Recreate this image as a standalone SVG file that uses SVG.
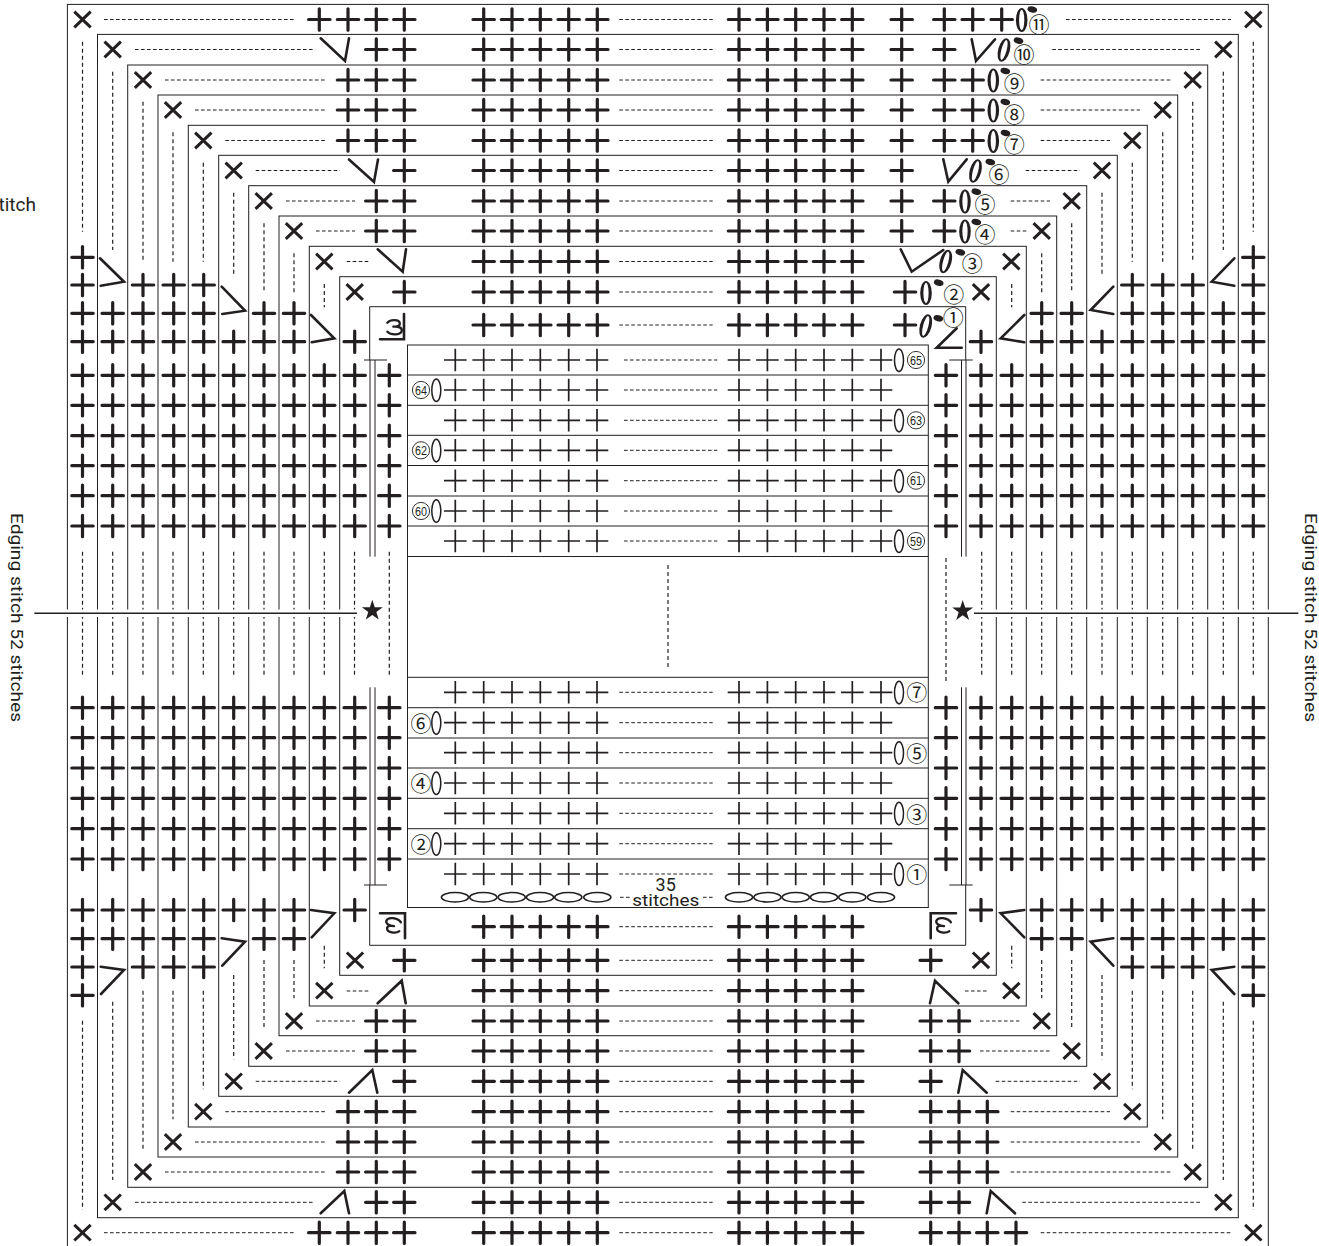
<svg xmlns="http://www.w3.org/2000/svg" width="1319" height="1246" viewBox="0 0 1319 1246">
<style>
.l{fill:none;stroke:#231f20;stroke-width:1}
.p{fill:none;stroke:#231f20;stroke-width:3.2;stroke-linecap:round}
.t{fill:none;stroke:#231f20;stroke-width:1.7}
.x{fill:none;stroke:#231f20;stroke-width:3}
.c{fill:none;stroke:#231f20;stroke-width:2.6;stroke-linecap:round;stroke-linejoin:miter}
.dh{fill:none;stroke:#231f20;stroke-width:1;stroke-dasharray:3.6 2.4}
.dv{fill:none;stroke:#231f20;stroke-width:1.2;stroke-dasharray:4 3}
.ot{fill:none;stroke:#231f20;stroke-width:1.5}
.d{fill:#231f20}
.w{fill:#fff}
.g{fill:none;stroke:#231f20;stroke-width:2.3;stroke-linecap:round;stroke-linejoin:round}
.n{font-family:"Noto Sans CJK JP","Noto Sans",sans-serif;font-size:21px;fill:#231f20;text-anchor:middle}
.m{font-family:"Liberation Sans",sans-serif;font-size:13px;fill:#231f20;text-anchor:middle}
.f{fill:none;stroke:#231f20;stroke-width:.9}
.r{font-family:Roboto,"Liberation Sans",sans-serif;font-size:16px;fill:#231f20}
</style>
<defs>
<path id="p" class="p" d="M-10.7 0H10.7M0-10.7V10.7"/>
<path id="t" class="t" d="M-11.3 0H11.3M0-11.3V11.3"/>
<path id="x" class="x" d="M-8.2-7.8L8.2 7.8M8.2-7.8L-8.2 7.8"/>
<path id="s" class="d" d="M0-11L2.47-3.4H10.46L4 1.3L6.47 8.9L0 4.2L-6.47 8.9L-4 1.3L-10.46-3.4H-2.47Z"/>
<path id="g3" class="g" d="M-7-5C-4-8.5 5-8.5 5.5-4.5C6-1.5 2-1-1-1C4-1.5 8 0 7.5 3C7 7.5-3 8-7 4"/>
<g id="o"><ellipse class="d" rx="5.8" ry="12"/><ellipse class="w" rx="2.6" ry="10.2"/></g>
<g id="u6"><use href="#p" y="375.3"/><use href="#p" y="405.3"/><use href="#p" y="435.7"/><use href="#p" y="465.7"/><use href="#p" y="495.7"/><use href="#p" y="526"/></g>
<g id="d6"><use href="#p" y="707.7"/><use href="#p" y="737.7"/><use href="#p" y="768"/><use href="#p" y="798.3"/><use href="#p" y="828.7"/><use href="#p" y="859"/></g>
<g id="c0"><use href="#u6"/><use href="#d6"/></g>
<g id="c1"><use href="#c0"/><use href="#p" y="341.7"/><use href="#p" y="910"/></g>
<g id="c2"><use href="#c1"/><use href="#p" y="313.3"/><use href="#p" y="938.7"/></g>
<g id="c3"><use href="#c2"/><use href="#p" y="285"/><use href="#p" y="967"/></g>
<g id="c4"><use href="#c3"/><use href="#p" y="257.3"/><use href="#p" y="995.3"/></g>
<g id="cr"><use href="#p" x="483.7"/><use href="#p" x="512"/><use href="#p" x="540.3"/><use href="#p" x="568.7"/><use href="#p" x="597.3"/><use href="#p" x="739"/><use href="#p" x="767.4"/><use href="#p" x="795.7"/><use href="#p" x="824"/><use href="#p" x="852.3"/><path class="dh" d="M619.3 0H712.7"/></g>
<g id="tr"><use href="#t" x="455.3"/><use href="#t" x="483.7"/><use href="#t" x="512"/><use href="#t" x="540.3"/><use href="#t" x="568.7"/><use href="#t" x="597"/><use href="#t" x="739"/><use href="#t" x="767.4"/><use href="#t" x="795.7"/><use href="#t" x="824"/><use href="#t" x="852.3"/><use href="#t" x="881"/></g>
</defs>

<g id="frames">
<rect class="l" x="67.4" y="4.4" width="1200.9" height="1244"/>
<rect class="l" x="97.5" y="34.4" width="1140.8" height="1183.3"/>
<rect class="l" x="127.7" y="65" width="1080" height="1122.3"/>
<rect class="l" x="158" y="95" width="1019.7" height="1062"/>
<rect class="l" x="188.3" y="125.3" width="959" height="1001.7"/>
<rect class="l" x="218.7" y="155.3" width="898.6" height="941"/>
<rect class="l" x="248.7" y="185.7" width="838" height="880.6"/>
<rect class="l" x="279" y="216" width="777.7" height="819.7"/>
<rect class="l" x="309.3" y="246.3" width="717" height="759.7"/>
<rect class="l" x="339.7" y="276.7" width="656.6" height="698.6"/>
<path class="l" d="M369.7 360V306.7H965.7V360M369.7 885V945.3H965.7V885"/>
<rect class="l" x="407.5" y="345" width="520.8" height="562.5"/>
<path class="l" d="M407.5 375H928.3M407.5 405.3H928.3M407.5 435.3H928.3M407.5 465.5H928.3M407.5 496H928.3M407.5 526H928.3M407.5 556.5H928.3M407.5 677.3H928.3M407.5 707.7H928.3M407.5 738H928.3M407.5 768H928.3M407.5 798.3H928.3M407.5 828.7H928.3M407.5 859H928.3"/>
<path class="l" d="M364 360H387M370 360V556.7M375 360V556.7M364 885H387M370 687.3V885M375 687.3V885M949.3 360H972.7M961.5 360V556.7M966 360V556.7M949.3 885H972.7M961.5 687.3V885M966 687.3V885"/>
</g>

<g id="stitch-lines">
<path class="dv" d="M82.5 41.7V231.7M112.7 71.7V250M143 101.7V261.7M173 132.3V261.7M203.3 162.7V261.7M233.7 192.7V276.7M264 223.3V292.7M294 253.3V292.7M324.3 284V307.3M1253.3 41.7V231.7M1223.3 71.7V250M1192.7 101.7V261.7M1162.7 132.3V261.7M1132.3 162.7V261.7M1102 192.7V276.7M1071.7 223.3V292.7M1041.7 253.3V292.7M1011.7 284V307.3"/>
<path class="dv" d="M82.5 551.7V675M112.7 551.7V675M143 551.7V675M173 551.7V675M203.3 551.7V675M233.7 551.7V675M264 551.7V675M294 551.7V675M324.3 551.7V675M354.5 551.7V675M389.3 551.7V675M946 558V682.7M981.7 551.7V675M1011.7 551.7V675M1041.7 551.7V675M1071.7 551.7V675M1102 551.7V675M1132.3 551.7V675M1162.7 551.7V675M1192.7 551.7V675M1223.3 551.7V675M1253.3 551.7V675M668 565V670"/>
<path class="dv" d="M82.5 1020.7V1210M112.7 1001.7V1180M143 990.7V1149.3M173 990.7V1119.3M203.3 990.7V1089.3M233.7 975V1059.3M264 960V1029M294 960V998.3M324.3 945.7V968.3M1253.3 1020.7V1210M1223.3 1001.7V1180M1192.7 990.7V1149.3M1162.7 990.7V1119.3M1132.3 990.7V1089.3M1102 975V1059.3M1071.7 960V1029M1041.7 960V998.3M1011.7 945.7V968.3"/>
<path class="dh" d="M104 19.5H295M135 49.5H314M165 80H325M195 110H325M225.3 140.5H325M255.7 170.5H340M286 201H355M316 231H355M346.7 261.5H370M1066 19.5H1231M1052.3 49.5H1201M1040.7 80H1170.7M1040.7 110H1140M1040.7 140.5H1110M1025.7 170.5H1080M1010.7 201H1050M1010.7 231H1026.7"/>
<path class="dh" d="M346.7 991H370M316 1021H355M286 1051H355M255.7 1081.3H340M225.3 1111.7H325M195 1142H325M165 1172H325M135 1202.3H314M104 1232.7H295M965 991H989M980 1021H1019.3M980 1051H1050M995.7 1081.3H1080M1010.7 1111.7H1110M1010.7 1142H1140M1010.7 1172H1170.7M1022.3 1202.3H1201M1040.7 1232.7H1231"/>
<path class="dh" d="M624 360H717.3M624 390H717.3M624 420.3H717.3M624 450.3H717.3M624 480.7H717.3M624 511H717.3M624 541H717.3M619.3 692.3H712.7M619.3 722.7H712.7M619.3 752.7H712.7M619.3 783H712.7M619.3 813.3H712.7M619.3 843.7H712.7M619.3 874H712.7M620 897.3H630M703 897.3H713"/>
<path fill="none" stroke="#fff" stroke-width="7.5" d="M34.3 613.3H357M974 613.3H1298.3"/>
<path fill="none" stroke="#231f20" stroke-width="1.6" d="M34.3 613.3H357M974 613.3H1298.3"/>
</g>

<g id="side-columns">
<use href="#c4" x="82.5"/><use href="#c2" x="112.7"/><use href="#c3" x="143"/><use href="#c3" x="173.7"/><use href="#c3" x="203.7"/><use href="#c1" x="233.7"/><use href="#c2" x="264"/><use href="#c2" x="294"/><use href="#c0" x="324.3"/><use href="#c1" x="354.7"/><use href="#c0" x="389.3"/>
<use href="#c4" x="1253.3"/><use href="#c2" x="1223.3"/><use href="#c3" x="1192.7"/><use href="#c3" x="1162.7"/><use href="#c3" x="1132.3"/><use href="#c1" x="1102"/><use href="#c2" x="1071.7"/><use href="#c2" x="1041.7"/><use href="#c0" x="1011.7"/><use href="#c1" x="981"/><use href="#c0" x="946"/>
</g>

<g id="center-rows">
<use href="#cr" y="19.5"/><use href="#cr" y="49.5"/><use href="#cr" y="80"/><use href="#cr" y="110"/><use href="#cr" y="140.5"/><use href="#cr" y="170.5"/><use href="#cr" y="201"/><use href="#cr" y="231"/><use href="#cr" y="261.5"/><use href="#cr" y="292"/><use href="#cr" y="325"/>
<use href="#cr" y="926.7"/><use href="#cr" y="960.3"/><use href="#cr" y="990.7"/><use href="#cr" y="1021"/><use href="#cr" y="1051"/><use href="#cr" y="1081.3"/><use href="#cr" y="1111.7"/><use href="#cr" y="1142"/><use href="#cr" y="1172"/><use href="#cr" y="1202.3"/><use href="#cr" y="1232.7"/>
<use href="#tr" y="360"/><use href="#tr" y="390"/><use href="#tr" y="420.3"/><use href="#tr" y="450.3"/><use href="#tr" y="480.7"/><use href="#tr" y="511"/><use href="#tr" y="541"/>
<use href="#tr" y="692.3"/><use href="#tr" y="722.7"/><use href="#tr" y="752.7"/><use href="#tr" y="783"/><use href="#tr" y="813.3"/><use href="#tr" y="843.7"/><use href="#tr" y="874"/>
</g>

<g id="row-plus">
<use href="#p" x="319.3" y="19.5"/><use href="#p" x="348" y="19.5"/><use href="#p" x="376.3" y="19.5"/><use href="#p" x="404.3" y="19.5"/>
<use href="#p" x="376.3" y="49.5"/><use href="#p" x="404.3" y="49.5"/>
<use href="#p" x="348" y="80"/><use href="#p" x="376.3" y="80"/><use href="#p" x="404.3" y="80"/>
<use href="#p" x="348" y="110"/><use href="#p" x="376.3" y="110"/><use href="#p" x="404.3" y="110"/>
<use href="#p" x="348" y="140.5"/><use href="#p" x="376.3" y="140.5"/><use href="#p" x="404.3" y="140.5"/>
<use href="#p" x="404.3" y="170.5"/>
<use href="#p" x="376.3" y="201"/><use href="#p" x="404.3" y="201"/>
<use href="#p" x="376.3" y="231"/><use href="#p" x="404.3" y="231"/>
<use href="#p" x="404.3" y="292"/>
<use href="#p" x="901.7" y="19.5"/><use href="#p" x="944.3" y="19.5"/><use href="#p" x="972.7" y="19.5"/><use href="#p" x="1001.7" y="19.5"/>
<use href="#p" x="901.7" y="49.5"/><use href="#p" x="944.3" y="49.5"/>
<use href="#p" x="901.7" y="80"/><use href="#p" x="944.3" y="80"/><use href="#p" x="972.7" y="80"/>
<use href="#p" x="901.7" y="110"/><use href="#p" x="944.3" y="110"/><use href="#p" x="972.7" y="110"/>
<use href="#p" x="901.7" y="140.5"/><use href="#p" x="944.3" y="140.5"/><use href="#p" x="972.7" y="140.5"/>
<use href="#p" x="901.7" y="170.5"/>
<use href="#p" x="901.7" y="201"/><use href="#p" x="944.3" y="201"/>
<use href="#p" x="901.7" y="231"/><use href="#p" x="944.3" y="231"/>
<use href="#p" x="905" y="292"/><use href="#p" x="905" y="325"/>
<use href="#p" x="404.3" y="960.3"/><use href="#p" x="930.7" y="960.3"/>
<use href="#p" x="376.3" y="1021"/><use href="#p" x="404.3" y="1021"/><use href="#p" x="930.7" y="1021"/><use href="#p" x="959" y="1021"/>
<use href="#p" x="376.3" y="1051"/><use href="#p" x="404.3" y="1051"/><use href="#p" x="930.7" y="1051"/><use href="#p" x="959" y="1051"/>
<use href="#p" x="404.3" y="1081.3"/><use href="#p" x="930.7" y="1081.3"/>
<use href="#p" x="348" y="1111.7"/><use href="#p" x="376.3" y="1111.7"/><use href="#p" x="404.3" y="1111.7"/><use href="#p" x="930.7" y="1111.7"/><use href="#p" x="959" y="1111.7"/><use href="#p" x="987.3" y="1111.7"/>
<use href="#p" x="348" y="1142"/><use href="#p" x="376.3" y="1142"/><use href="#p" x="404.3" y="1142"/><use href="#p" x="930.7" y="1142"/><use href="#p" x="959" y="1142"/><use href="#p" x="987.3" y="1142"/>
<use href="#p" x="348" y="1172"/><use href="#p" x="376.3" y="1172"/><use href="#p" x="404.3" y="1172"/><use href="#p" x="930.7" y="1172"/><use href="#p" x="959" y="1172"/><use href="#p" x="987.3" y="1172"/>
<use href="#p" x="376.3" y="1202.3"/><use href="#p" x="404.3" y="1202.3"/><use href="#p" x="930.7" y="1202.3"/><use href="#p" x="959" y="1202.3"/>
<use href="#p" x="319.3" y="1232.7"/><use href="#p" x="348" y="1232.7"/><use href="#p" x="376.3" y="1232.7"/><use href="#p" x="404.3" y="1232.7"/><use href="#p" x="930.7" y="1232.7"/><use href="#p" x="959" y="1232.7"/><use href="#p" x="987.3" y="1232.7"/><use href="#p" x="1016" y="1232.7"/>
</g>

<g id="corners">
<use href="#x" x="82.5" y="19.5"/><use href="#x" x="112.7" y="49.5"/><use href="#x" x="143" y="80"/><use href="#x" x="173" y="110"/><use href="#x" x="203.3" y="140.5"/><use href="#x" x="233.7" y="170.5"/><use href="#x" x="263.7" y="201"/><use href="#x" x="294" y="231"/><use href="#x" x="324.3" y="261.5"/><use href="#x" x="354.7" y="292"/>
<use href="#x" x="1253.3" y="19.5"/><use href="#x" x="1223.3" y="49.5"/><use href="#x" x="1192.7" y="80"/><use href="#x" x="1162.7" y="110"/><use href="#x" x="1132.3" y="140.5"/><use href="#x" x="1102" y="170.5"/><use href="#x" x="1071.7" y="201"/><use href="#x" x="1041.7" y="231"/><use href="#x" x="1011.3" y="261.5"/><use href="#x" x="981" y="292"/>
<use href="#x" x="355" y="960.3"/><use href="#x" x="324.3" y="990.7"/><use href="#x" x="294" y="1021"/><use href="#x" x="263.7" y="1051"/><use href="#x" x="233.7" y="1081.3"/><use href="#x" x="203.3" y="1111.7"/><use href="#x" x="173" y="1142"/><use href="#x" x="143" y="1172"/><use href="#x" x="112.7" y="1202.3"/><use href="#x" x="82.5" y="1232.7"/>
<use href="#x" x="981" y="960.3"/><use href="#x" x="1011.3" y="990.7"/><use href="#x" x="1041.7" y="1021"/><use href="#x" x="1071.7" y="1051"/><use href="#x" x="1102" y="1081.3"/><use href="#x" x="1132.3" y="1111.7"/><use href="#x" x="1162.7" y="1142"/><use href="#x" x="1192.7" y="1172"/><use href="#x" x="1223.3" y="1202.3"/><use href="#x" x="1253.3" y="1232.7"/>
</g>

<g id="decreases">
<path class="c" d="M320.7 38.3L345 61L349 38.3M349 159.5L374 182L378 159.5M377.7 249.3L402.7 271.7L406 249.3M971.7 39.3L976 61L995 39.3M943.3 159.3L948.3 181.7L966.7 159.3M900.7 249.3L911.7 271.7L943.3 250M956.7 328.3L936.7 347.7H961.7"/>
<path class="c" d="M100 258.3L124 281.7L100.7 285.7M221.7 286.7L245 310.7L222.3 314M311 315L334.3 338.3L311.7 342.3M1234.3 258.3L1211.7 281.7L1234.3 285.7M1113.3 286.7L1090.7 310L1113.3 314M1024.3 315L1000.7 338.3L1024.3 342.3"/>
<path class="c" d="M100.7 966.7L124 970L101 994M221.7 938.3L245 941.7L222.3 965.7M311 910L334.3 913.3L311.7 937.3M1234.3 966.7L1211.7 970L1234.3 994M1113.3 938.3L1090.7 941.7L1113.3 965.7M1024.3 910L1000.7 913.3L1024.3 937.3"/>
<path class="c" d="M377.7 1003.3L401.7 980.7L405.7 1003.3M930 1003.3L935 980.7L958.3 1003.3M349 1092.7L372.3 1070L377.3 1092.7M958.3 1092.7L962.7 1070L986.7 1092.7M320.7 1213.3L344.3 1191L349 1213.3M986.7 1213.3L990.7 1191L1015 1213.3"/>
</g>

<g id="join-marks">
<path class="c" d="M380 339.3H404V314M380 913.3H405V938.3M956 913.3H930.7V938.3"/>
<use href="#g3" x="394.3" y="327.7"/>
<use href="#g3" transform="translate(393.3 925) rotate(190)"/>
<use href="#g3" transform="translate(943.3 925) rotate(190)"/>
</g>

<g id="chains">
<use href="#o" x="1021.7" y="20"/>
<use href="#o" x="993.3" y="80.5"/>
<use href="#o" x="993.3" y="110.5"/>
<use href="#o" x="993.3" y="141"/>
<use href="#o" x="965" y="201.5"/>
<use href="#o" x="965" y="231.5"/>
<use href="#o" x="926" y="293"/>
<use href="#o" transform="translate(1004 50) rotate(15)"/>
<use href="#o" transform="translate(975.5 171) rotate(15)"/>
<use href="#o" transform="translate(945.7 261.5) rotate(15)"/>
<use href="#o" transform="translate(925.7 326) rotate(15)"/>
<g class="d">
<ellipse rx="4.9" ry="3.1" transform="translate(1032.3 9.5) rotate(15)"/>
<ellipse rx="4.9" ry="3.1" transform="translate(1018.5 40.7) rotate(15)"/>
<ellipse rx="4.9" ry="3.1" transform="translate(1005.3 71) rotate(15)"/>
<ellipse rx="4.9" ry="3.1" transform="translate(1005.3 102) rotate(15)"/>
<ellipse rx="4.9" ry="3.1" transform="translate(1005.5 133) rotate(15)"/>
<ellipse rx="4.9" ry="3.1" transform="translate(990.3 162) rotate(15)"/>
<ellipse rx="4.9" ry="3.1" transform="translate(976.3 191.7) rotate(15)"/>
<ellipse rx="4.9" ry="3.1" transform="translate(976.3 222) rotate(15)"/>
<ellipse rx="4.9" ry="3.1" transform="translate(960.3 252.3) rotate(15)"/>
<ellipse rx="4.9" ry="3.1" transform="translate(938.7 282.7) rotate(15)"/>
<ellipse rx="4.9" ry="3.1" transform="translate(938.3 318.3) rotate(15)"/>
</g>
<g class="ot">
<ellipse cx="899" cy="360.3" rx="4.5" ry="11.3"/><ellipse cx="899" cy="420.6" rx="4.5" ry="11.3"/><ellipse cx="899" cy="481" rx="4.5" ry="11.3"/><ellipse cx="899" cy="541.3" rx="4.5" ry="11.3"/>
<ellipse cx="899" cy="692.6" rx="4.5" ry="11.3"/><ellipse cx="899" cy="753" rx="4.5" ry="11.3"/><ellipse cx="899" cy="813.6" rx="4.5" ry="11.3"/><ellipse cx="899" cy="874.3" rx="4.5" ry="11.3"/>
<ellipse cx="436.3" cy="390.3" rx="4.5" ry="11.3"/><ellipse cx="436.3" cy="450.6" rx="4.5" ry="11.3"/><ellipse cx="436.3" cy="511" rx="4.5" ry="11.3"/>
<ellipse cx="436.3" cy="723" rx="4.5" ry="11.3"/><ellipse cx="436.3" cy="783.3" rx="4.5" ry="11.3"/><ellipse cx="436.3" cy="844" rx="4.5" ry="11.3"/>
<ellipse cx="455" cy="897.3" rx="13.6" ry="4.7"/><ellipse cx="483.3" cy="897.3" rx="13.6" ry="4.7"/><ellipse cx="511.7" cy="897.3" rx="13.6" ry="4.7"/><ellipse cx="540" cy="897.3" rx="13.6" ry="4.7"/><ellipse cx="568.3" cy="897.3" rx="13.6" ry="4.7"/><ellipse cx="597.3" cy="897.3" rx="13.6" ry="4.7"/>
<ellipse cx="739" cy="897.3" rx="13.6" ry="4.7"/><ellipse cx="767.4" cy="897.3" rx="13.6" ry="4.7"/><ellipse cx="795.7" cy="897.3" rx="13.6" ry="4.7"/><ellipse cx="824" cy="897.3" rx="13.6" ry="4.7"/><ellipse cx="852.3" cy="897.3" rx="13.6" ry="4.7"/><ellipse cx="881" cy="897.3" rx="13.6" ry="4.7"/>
</g>
</g>

<g id="row-numbers">
<text class="n" x="1039" y="31.7">⑪</text>
<text class="n" x="1024" y="62.3">⑩</text>
<text class="n" x="1014.3" y="91.3">⑨</text>
<text class="n" x="1014.3" y="122">⑧</text>
<text class="n" x="1014.3" y="152.3">⑦</text>
<text class="n" x="999" y="182">⑥</text>
<text class="n" x="985" y="212.3">⑤</text>
<text class="n" x="985" y="242.3">④</text>
<text class="n" x="972.3" y="271.3">③</text>
<text class="n" x="953.7" y="302.3">②</text>
<text class="n" x="953.3" y="324.7">①</text>
<text class="n" x="916.7" y="700.2">⑦</text>
<text class="n" x="916.7" y="760.8">⑤</text>
<text class="n" x="916.7" y="821.6">③</text>
<text class="n" x="916.7" y="882">①</text>
<text class="n" x="421" y="730.8">⑥</text>
<text class="n" x="421" y="791">④</text>
<text class="n" x="421" y="851.8">②</text>
<g class="f"><circle cx="916" cy="360" r="8.6"/><circle cx="916" cy="420.3" r="8.6"/><circle cx="916" cy="480.7" r="8.6"/><circle cx="916" cy="541" r="8.6"/><circle cx="421" cy="390" r="8.6"/><circle cx="421" cy="450.3" r="8.6"/><circle cx="421" cy="511" r="8.6"/></g>
<text class="m" x="916" y="364.7" textLength="12" lengthAdjust="spacingAndGlyphs">65</text>
<text class="m" x="916" y="425" textLength="12" lengthAdjust="spacingAndGlyphs">63</text>
<text class="m" x="916" y="485.4" textLength="12" lengthAdjust="spacingAndGlyphs">61</text>
<text class="m" x="916" y="545.7" textLength="12" lengthAdjust="spacingAndGlyphs">59</text>
<text class="m" x="421" y="394.7" textLength="12" lengthAdjust="spacingAndGlyphs">64</text>
<text class="m" x="421" y="455" textLength="12" lengthAdjust="spacingAndGlyphs">62</text>
<text class="m" x="421" y="515.7" textLength="12" lengthAdjust="spacingAndGlyphs">60</text>
</g>

<g id="stars"><use href="#s" x="372.3" y="610.7"/><use href="#s" x="962.7" y="611"/></g>

<g id="labels">
<text class="r" x="36" y="210.7" text-anchor="end" style="font-size:19px">stitch</text>
<text class="r" transform="translate(11 513) rotate(90)" textLength="209" lengthAdjust="spacingAndGlyphs">Edging stitch 52 stitches</text>
<text class="r" transform="translate(1304.5 513) rotate(90)" textLength="209" lengthAdjust="spacingAndGlyphs">Edging stitch 52 stitches</text>
<text class="r" x="665.7" y="890.5" text-anchor="middle" style="font-size:18px">35</text>
<text class="r" x="632.3" y="906" style="font-size:17px" textLength="67" lengthAdjust="spacingAndGlyphs">stitches</text>
</g>
</svg>
